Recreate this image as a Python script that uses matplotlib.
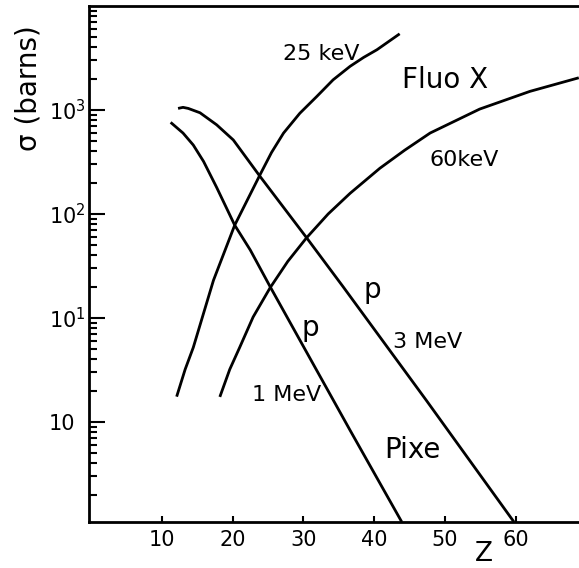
import numpy as np
import matplotlib
matplotlib.use("Agg")
import matplotlib.pyplot as plt
from matplotlib.ticker import LogLocator, NullFormatter

# cross sections (barns), vs atomic number Z
z_pixe_1mev = [11.25, 13.0, 14.45, 15.9, 17.75, 20.3, 22.5, 25.3, 36.6, 43.9]
s_pixe_1mev = [760, 600, 460, 320, 180, 78, 45, 20, 0.83, 0.109]

z_pixe_3mev = [12.3, 13.0, 13.74, 15.4, 17.75, 20.1, 23.87, 30.46, 35.6, 47.4, 59.75]
s_pixe_3mev = [1035, 1060, 1035, 940, 720, 515, 230, 59, 20, 1.6, 0.109]

z_fluo_25kev = [12.1, 13.3, 14.45, 17.3, 20.3, 23.9, 25.5, 27.2, 29.5, 31.9, 34.2, 36.6, 38.5, 40.4, 43.6]
s_fluo_25kev = [1.75, 3.2, 5.2, 23, 78, 240, 390, 600, 930, 1350, 1950, 2630, 3200, 3800, 5400]

z_fluo_60kev = [18.2, 19.6, 21.0, 22.9, 25.3, 27.8, 30.45, 33.5, 36.6, 40.8, 44.3, 47.9, 54.9, 62.0, 68.9]
s_fluo_60kev = [1.74, 3.2, 5.2, 10.2, 19.5, 35, 59, 100, 158, 275, 410, 600, 1020, 1510, 2040]

x_ticks = [10, 20, 30, 40, 50, 60]
y_ticks = [1, 10, 100, 1000]
y_tick_labels = ["10", "$10^1$", "$10^2$", "$10^3$"]

W, H = 579, 568
fig = plt.figure(figsize=(W / 100, H / 100), dpi=100)
ax = fig.add_axes([89 / W, (H - 522) / H, (W - 89) / W, (522 - 6) / H])

lw = 2.0
ax.plot(z_pixe_1mev, s_pixe_1mev, color="black", lw=lw, solid_capstyle="butt")
ax.plot(z_pixe_3mev, s_pixe_3mev, color="black", lw=lw, solid_capstyle="butt")
ax.plot(z_fluo_25kev, s_fluo_25kev, color="black", lw=lw, solid_capstyle="butt")
ax.plot(z_fluo_60kev, s_fluo_60kev, color="black", lw=lw, solid_capstyle="butt")

ax.set_yscale("log")
ax.set_xlim(-0.28, 68.93)
ax.set_ylim(0.109, 1e4)

ax.set_xticks(x_ticks)
ax.set_xticklabels([str(t) for t in x_ticks])
ax.set_yticks(y_ticks)
ax.set_yticklabels(y_tick_labels)
ax.yaxis.set_minor_locator(LogLocator(base=10, subs=np.arange(2, 10)))
ax.yaxis.set_minor_formatter(NullFormatter())
ax.xaxis.set_minor_locator(plt.NullLocator())

ax.tick_params(axis="y", which="major", direction="in", length=11.5, width=1.5,
               labelsize=15, pad=29, right=False)
ax.tick_params(axis="y", which="minor", direction="in", length=5.5, width=1.5, right=False)
ax.tick_params(axis="x", which="major", direction="in", length=4.5, width=1.5,
               labelsize=15, pad=6, top=False)
# y tick labels start at the same left edge in the original
for lab in ax.get_yticklabels():
    lab.set_horizontalalignment("left")

for side in ["left", "bottom", "top"]:
    ax.spines[side].set_linewidth(2)
ax.spines["right"].set_visible(False)

# curve labels
ax.text(32.5, 3020, "25 keV", fontsize=16, ha="center", va="baseline")
ax.text(50.0, 1625, "Fluo X", fontsize=20, ha="center", va="baseline")
ax.text(52.7, 290, "60keV", fontsize=16, ha="center", va="baseline")
ax.text(31.0, 6.7, "p", fontsize=20, ha="center", va="baseline")
ax.text(27.6, 1.59, "1 MeV", fontsize=16, ha="center", va="baseline")
ax.text(39.8, 15.5, "p", fontsize=20, ha="center", va="baseline")
ax.text(47.5, 5.1, "3 MeV", fontsize=16, ha="center", va="baseline")
ax.text(45.4, 0.45, "Pixe", fontsize=20, ha="center", va="baseline")

# axis titles
fig.text(483.5 / W, 1 - 567 / H, "Z", fontsize=19, ha="center", va="bottom")
fig.text(28 / W, 1 - 88 / H, "σ (barns)", fontsize=20, rotation=90,
         ha="center", va="center")

plt.savefig("out.png", dpi=100)
